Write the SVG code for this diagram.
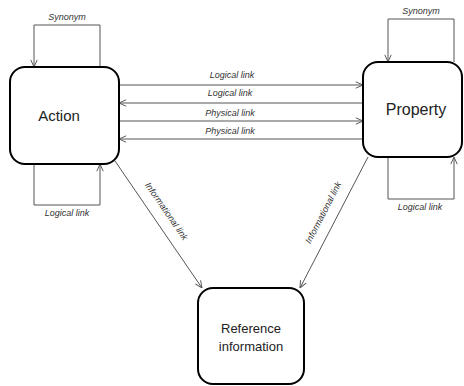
<svg xmlns="http://www.w3.org/2000/svg" width="464" height="386" viewBox="0 0 464 386">
<style>
.box{fill:#fff;stroke:#000;stroke-width:2}
.nl{font-family:"Liberation Sans",Arial,sans-serif;font-size:15px;fill:#222;text-anchor:middle}
.el{font-family:"Liberation Sans",Arial,sans-serif;font-size:9px;font-style:italic;fill:#333;text-anchor:middle}
.c{fill:none;stroke:#555;stroke-width:1}
</style>
<defs>
<marker id="ah" viewBox="0 0 10 10" refX="10" refY="5" markerWidth="8" markerHeight="8" markerUnits="userSpaceOnUse" orient="auto">
<path d="M1,1 L10,5 L1,9" fill="none" stroke="#555" stroke-width="1.2"/>
</marker>
</defs>
<rect width="464" height="386" fill="#fff"/>
<g id="connectors">
<polyline class="c" points="100,67 100,25 34,25 34,67" marker-end="url(#ah)"/>
<text class="el" x="67" y="20">Synonym</text>
<polyline class="c" points="34,164 34,205 100,205 100,164" marker-end="url(#ah)"/>
<text class="el" x="67" y="216">Logical link</text>
<polyline class="c" points="454,62 454,19 388,19 388,62" marker-end="url(#ah)"/>
<text class="el" x="421" y="14">Synonym</text>
<polyline class="c" points="388,157 388,199 454,199 454,157" marker-end="url(#ah)"/>
<text class="el" x="420" y="210">Logical link</text>
<line class="c" x1="119" y1="85" x2="363" y2="85" marker-end="url(#ah)"/>
<text class="el" x="232" y="78">Logical link</text>
<line class="c" x1="363" y1="103" x2="119" y2="103" marker-end="url(#ah)"/>
<text class="el" x="230" y="96">Logical link</text>
<line class="c" x1="119" y1="121" x2="363" y2="121" marker-end="url(#ah)"/>
<text class="el" x="230" y="116">Physical link</text>
<line class="c" x1="363" y1="139" x2="119" y2="139" marker-end="url(#ah)"/>
<text class="el" x="230" y="134">Physical link</text>
<line class="c" x1="115" y1="161" x2="202" y2="288" marker-end="url(#ah)"/>
<text class="el" transform="translate(164,213) rotate(55.4)">Informational link</text>
<line class="c" x1="368" y1="157" x2="300" y2="288" marker-end="url(#ah)"/>
<text class="el" transform="translate(326,214) rotate(-62.6)">Informational link</text>
</g>
<g id="action">
<rect class="box" x="10" y="67" width="109" height="97" rx="15"/>
<text class="nl" x="59" y="121">Action</text>
</g>
<g id="property">
<rect class="box" x="363" y="62" width="99" height="95" rx="15"/>
<text class="nl" x="416" y="115" style="font-size:16px">Property</text>
</g>
<g id="reference">
<rect class="box" x="198" y="288" width="106" height="96" rx="15"/>
<text class="nl" x="251" y="333" style="font-size:13px">Reference</text>
<text class="nl" x="251" y="351" style="font-size:13px">information</text>
</g>
</svg>
